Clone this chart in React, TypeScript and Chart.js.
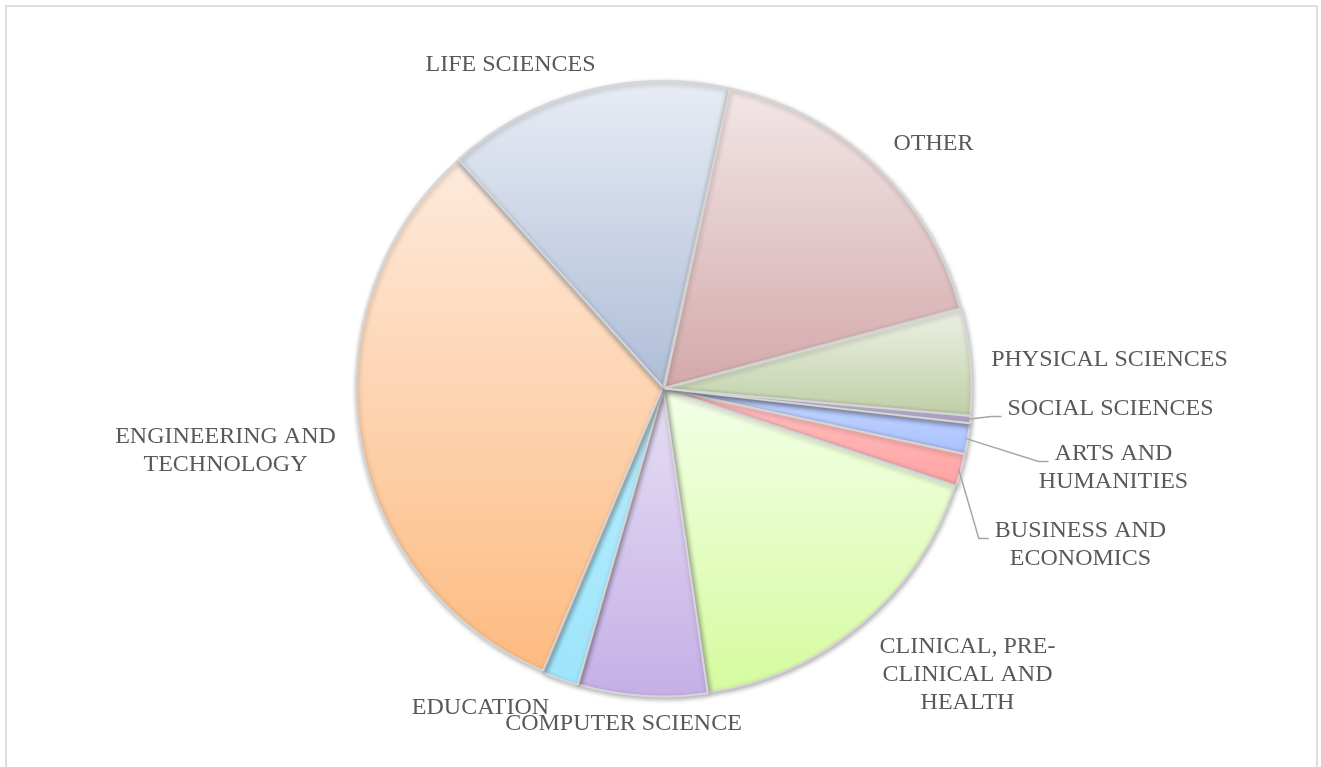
import React, { useEffect, useRef } from 'react';
import { Chart, registerables } from 'chart.js';

Chart.register(...registerables);

// ---------- data ----------
const categories = [
  'ARTS AND HUMANITIES',
  'BUSINESS AND ECONOMICS',
  'CLINICAL, PRE-CLINICAL AND HEALTH',
  'COMPUTER SCIENCE',
  'EDUCATION',
  'ENGINEERING AND TECHNOLOGY',
  'LIFE SCIENCES',
  'OTHER',
  'PHYSICAL SCIENCES',
  'SOCIAL SCIENCES',
];
const labelLines = [
  ['ARTS AND', 'HUMANITIES'],
  ['BUSINESS AND', 'ECONOMICS'],
  ['CLINICAL, PRE-', 'CLINICAL AND', 'HEALTH'],
  ['COMPUTER SCIENCE'],
  ['EDUCATION'],
  ['ENGINEERING AND', 'TECHNOLOGY'],
  ['LIFE SCIENCES'],
  ['OTHER'],
  ['PHYSICAL SCIENCES'],
  ['SOCIAL SCIENCES'],
];
const shares = [1.6, 1.7, 17.6, 6.8, 1.9, 32.0, 15.1, 17.4, 5.6, 0.4];

// ---------- styles ----------
const topColors = ['#c6d6ff', '#ffc2c2', '#f3ffe8', '#e6def3', '#b8eefd', '#fdeadc', '#e8ecf4', '#f3e7e7', '#edf1e5', '#d4cce2'];
const bottomColors = ['#a9c1ff', '#ffa3a3', '#d5fb9e', '#c5afe6', '#9ee4fb', '#fdbb80', '#afbdd8', '#d3a9ab', '#bfcfa6', '#b6aacf'];
// label block centres relative to pie centre (layout only)
const labelOffsets = [
  [450, 79], [417, 156], [304, 286], [-40, 335], [-183, 319],
  [-438, 62], [-153, -324], [270, -245], [446, -29], [447, 20],
];
const leaderFor = [true, true, false, false, false, false, false, false, false, true];
const ROTATION = 96.5;
const FONT = '24px "Liberation Serif", "Times New Roman", serif';
const LINE_H = 28;

function sliceYRange(cx: number, cy: number, r: number, a0: number, a1: number) {
  let minY = cy, maxY = cy;
  for (const a of [a0, a1]) {
    const y = cy + r * Math.sin(a);
    minY = Math.min(minY, y);
    maxY = Math.max(maxY, y);
  }
  const norm = (a: number) => ((a % (2 * Math.PI)) + 2 * Math.PI) % (2 * Math.PI);
  const contains = (t: number) => {
    const s = norm(a0);
    const span = a1 - a0;
    const d = norm(t - s);
    return d <= span;
  };
  if (contains(-Math.PI / 2)) minY = cy - r;
  if (contains(Math.PI / 2)) maxY = cy + r;
  return [minY, maxY];
}

const gradientColor = (ctx: any) => {
  const i = ctx.dataIndex;
  const chart = ctx.chart;
  const area = chart.chartArea;
  if (!area || ctx.type !== 'data') return topColors[i];
  const cx = (area.left + area.right) / 2;
  const cy = (area.top + area.bottom) / 2;
  const r = Math.min(area.width, area.height) / 2;
  const total = shares.reduce((a, b) => a + b, 0);
  let cum = 0;
  for (let k = 0; k < i; k++) cum += shares[k];
  const base = ((ROTATION - 90) * Math.PI) / 180;
  const a0 = base + (cum / total) * 2 * Math.PI;
  const a1 = base + ((cum + shares[i]) / total) * 2 * Math.PI;
  const [y0, y1] = sliceYRange(cx, cy, r, a0, a1);
  const g = chart.ctx.createLinearGradient(0, y0, 0, Math.max(y1, y0 + 1));
  g.addColorStop(0, topColors[i]);
  g.addColorStop(1, bottomColors[i]);
  return g;
};

const shadowPlugin = {
  id: 'sliceShadow',
  beforeDatasetsDraw(chart: any) {
    const c = chart.ctx;
    c.save();
    c.shadowColor = 'rgba(0,0,0,0.3)';
    c.shadowBlur = 5;
    c.shadowOffsetX = 1;
    c.shadowOffsetY = 2;
  },
  afterDatasetsDraw(chart: any) {
    chart.ctx.restore();
  },
};

const labelPlugin = {
  id: 'sliceLabels',
  afterDraw(chart: any) {
    const c = chart.ctx;
    const meta = chart.getDatasetMeta(0);
    const area = chart.chartArea;
    const cx = (area.left + area.right) / 2;
    const cy = (area.top + area.bottom) / 2;
    c.save();
    c.font = FONT;
    c.fillStyle = '#595959';
    c.textAlign = 'center';
    c.textBaseline = 'middle';
    meta.data.forEach((el: any, i: number) => {
      const lines = labelLines[i];
      const bx = cx + labelOffsets[i][0];
      const by = cy + labelOffsets[i][1];
      const firstY = by - ((lines.length - 1) * LINE_H) / 2;
      lines.forEach((ln, j) => c.fillText(ln, bx, firstY + j * LINE_H));
      if (leaderFor[i]) {
        const p = el.getProps(['x', 'y', 'startAngle', 'endAngle', 'outerRadius'], true);
        const mid = (p.startAngle + p.endAngle) / 2;
        const sx = p.x + p.outerRadius * Math.cos(mid);
        const sy = p.y + p.outerRadius * Math.sin(mid);
        const w = c.measureText(lines[0]).width;
        const ex = bx - w / 2 - 6;
        const ey = firstY + 8;
        c.save();
        c.strokeStyle = '#a6a6a6';
        c.lineWidth = 1.5;
        c.beginPath();
        c.moveTo(sx, sy);
        c.lineTo(ex - 10, ey);
        c.lineTo(ex, ey);
        c.stroke();
        c.restore();
      }
    });
    c.restore();
  },
};

export default function App() {
  const ref = useRef<HTMLCanvasElement | null>(null);
  useEffect(() => {
    document.body.style.margin = '0';
    if (!ref.current) return;
    const chart = new Chart(ref.current, {
      type: 'pie',
      data: {
        labels: categories,
        datasets: [
          {
            data: shares,
            backgroundColor: gradientColor as any,
            borderColor: 'rgba(214,214,214,1)',
            borderWidth: 2,
            offset: 5,
          },
        ],
      },
      options: {
        responsive: false,
        animation: false,
        devicePixelRatio: 1,
        rotation: ROTATION,
        events: [],
        layout: { padding: { left: 354, right: 348, top: 79, bottom: 69 } },
        plugins: {
          legend: { display: false },
          tooltip: { enabled: false },
        },
      },
      plugins: [shadowPlugin, labelPlugin],
    });
    return () => chart.destroy();
  }, []);
  return (
    <div style={{ position: 'relative', width: 1321, height: 767, overflow: 'hidden', background: '#fff' }}>
      <div
        style={{
          position: 'absolute',
          left: 5,
          top: 5,
          width: 1313,
          height: 800,
          border: '2px solid #dedede',
          boxSizing: 'border-box',
        }}
      />
      <canvas ref={ref} width={1321} height={767} style={{ position: 'absolute', left: 0, top: 0 }} />
    </div>
  );
}
